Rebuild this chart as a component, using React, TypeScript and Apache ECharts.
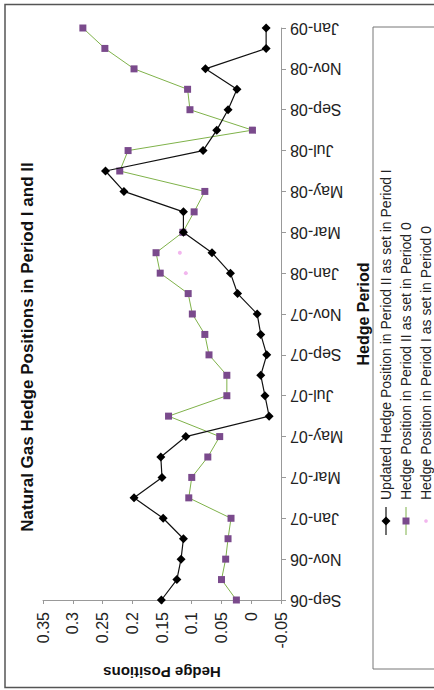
import React, { useEffect, useRef } from "react";
import * as echarts from "echarts";

const months = [
  "Sep-06", "Oct-06", "Nov-06", "Dec-06", "Jan-07", "Feb-07", "Mar-07", "Apr-07",
  "May-07", "Jun-07", "Jul-07", "Aug-07", "Sep-07", "Oct-07", "Nov-07", "Dec-07",
  "Jan-08", "Feb-08", "Mar-08", "Apr-08", "May-08", "Jun-08", "Jul-08", "Aug-08",
  "Sep-08", "Oct-08", "Nov-08", "Dec-08", "Jan-09",
];

const updatedPeriodII = [
  0.151, 0.125, 0.118, 0.114, 0.148, 0.197, 0.15, 0.152, 0.11, -0.03, -0.023, -0.016,
  -0.026, -0.016, -0.01, 0.023, 0.035, 0.066, 0.114, 0.114, 0.214, 0.245, 0.081, 0.058,
  0.039, 0.024, 0.077, -0.025, -0.025,
];

const periodIIasSet0 = [
  0.025, 0.05, 0.043, 0.039, 0.034, 0.105, 0.1, 0.073, 0.053, 0.139, 0.041, 0.041,
  0.071, 0.078, 0.099, 0.106, 0.153, 0.16, 0.115, 0.096, 0.078, 0.221, 0.207, -0.002,
  0.103, 0.107, 0.197, 0.246, 0.283,
];

const periodIasSet0: (number | null)[] = [
  0.025, 0.05, 0.043, 0.039, 0.034, 0.105, 0.1, 0.073, 0.053, 0.139, 0.041, 0.041,
  null, null, null, null, 0.11, 0.12, null, null, null, null, null, null,
  null, null, null, null, null,
];

const seriesNames = [
  "Updated Hedge Position in Period II as set in Period I",
  "Hedge Position in Period II as set in Period 0",
  "Hedge Position in Period I as set in Period 0",
];

const FONT = '"Liberation Sans", Arial, sans-serif';

export default function App() {
  const ref = useRef<HTMLDivElement>(null);
  useEffect(() => {
    if (!ref.current) return;
    const chart = echarts.init(ref.current, null, { renderer: "svg" });
    const legendItems: any[] = [];
    const ys = [13, 33, 53];
    seriesNames.forEach((name, k) => {
      const yk = ys[k];
      if (k === 0) {
        legendItems.push({ type: "line", shape: { x1: 134, y1: yk, x2: 162, y2: yk }, style: { stroke: "#111", lineWidth: 1.2 } });
        legendItems.push({ type: "polygon", shape: { points: [[143.5, yk], [148, yk - 4.5], [152.5, yk], [148, yk + 4.5]] }, style: { fill: "#000" } });
      } else if (k === 1) {
        legendItems.push({ type: "line", shape: { x1: 134, y1: yk, x2: 162, y2: yk }, style: { stroke: "#7fb24a", lineWidth: 1 } });
        legendItems.push({ type: "rect", shape: { x: 144.5, y: yk - 3.5, width: 7, height: 7 }, style: { fill: "#7a4a8c" } });
      } else {
        legendItems.push({ type: "circle", shape: { cx: 148, cy: yk, r: 1.8 }, style: { fill: "#f2b6ee" } });
      }
      legendItems.push({
        type: "text", x: 169, y: yk,
        style: { text: name, font: `14px ${FONT}`, fill: "#222", align: "left", verticalAlign: "middle" },
      });
    });

    const option: any = {
      animation: false,
      backgroundColor: "#ffffff",
      grid: { left: 43, right: 153, top: 28, bottom: 90, containLabel: false },
      xAxis: {
        type: "value",
        min: -0.05,
        max: 0.35,
        interval: 0.05,
        inverse: true,
        position: "bottom",
        splitLine: { show: false },
        axisLine: { show: true, lineStyle: { color: "#999" } },
        axisTick: { show: true, length: 4, lineStyle: { color: "#999" } },
        axisLabel: { rotate: 90, margin: 12, fontSize: 16, color: "#222", fontFamily: FONT },
        name: "Hedge Positions",
        nameLocation: "middle",
        nameRotate: 180,
        nameGap: 65,
        nameTextStyle: { fontSize: 15, fontWeight: "bold", fontFamily: FONT, color: "#111" },
      },
      yAxis: {
        type: "category",
        data: months,
        boundaryGap: false,
        position: "right",
        splitLine: { show: false },
        axisLine: { show: true, onZero: false, lineStyle: { color: "#999" } },
        axisTick: { show: true, interval: 1, length: 5, lineStyle: { color: "#999" } },
        axisLabel: { interval: 1, rotate: 180, margin: 9, fontSize: 16, color: "#222", fontFamily: FONT },
        name: "Hedge Period",
        nameLocation: "middle",
        nameRotate: 90,
        nameGap: 74,
        nameTextStyle: { fontSize: 16, fontWeight: "bold", fontFamily: FONT, color: "#111" },
      },
      series: [
        {
          name: seriesNames[2],
          type: "line",
          data: periodIasSet0,
          symbol: "circle",
          symbolSize: 4,
          z: 1,
          itemStyle: { color: "#f2b6ee" },
          lineStyle: { width: 0, opacity: 0 },
        },
        {
          name: seriesNames[1],
          type: "line",
          data: periodIIasSet0,
          symbol: "rect",
          symbolSize: 7,
          z: 2,
          itemStyle: { color: "#7a4a8c" },
          lineStyle: { color: "#7fb24a", width: 1 },
        },
        {
          name: seriesNames[0],
          type: "line",
          data: updatedPeriodII,
          symbol: "diamond",
          symbolSize: 9,
          z: 3,
          itemStyle: { color: "#000" },
          lineStyle: { color: "#111", width: 1.2 },
        },
      ],
      graphic: [
        { type: "rect", shape: { x: 5, y: 4.5, width: 440, height: 683 }, style: { fill: "none", stroke: "#555", lineWidth: 1.5 }, silent: true },
        {
          type: "text", x: 27, y: 347, rotation: Math.PI / 2,
          style: { text: "Natural Gas Hedge Positions in Period I and II", font: `bold 17px ${FONT}`, fill: "#111", align: "center", verticalAlign: "middle" },
        },
        {
          type: "group", x: 373, y: 669, rotation: Math.PI / 2,
          children: [
            { type: "rect", shape: { x: 0, y: 0, width: 642, height: 120 }, style: { fill: "none", stroke: "#777", lineWidth: 1 } },
            ...legendItems,
          ],
        },
      ],
    };
    chart.setOption(option);
    return () => chart.dispose();
  }, []);
  return <div ref={ref} style={{ position: "absolute", left: 0, top: 0, width: 434, height: 690 }} />;
}
